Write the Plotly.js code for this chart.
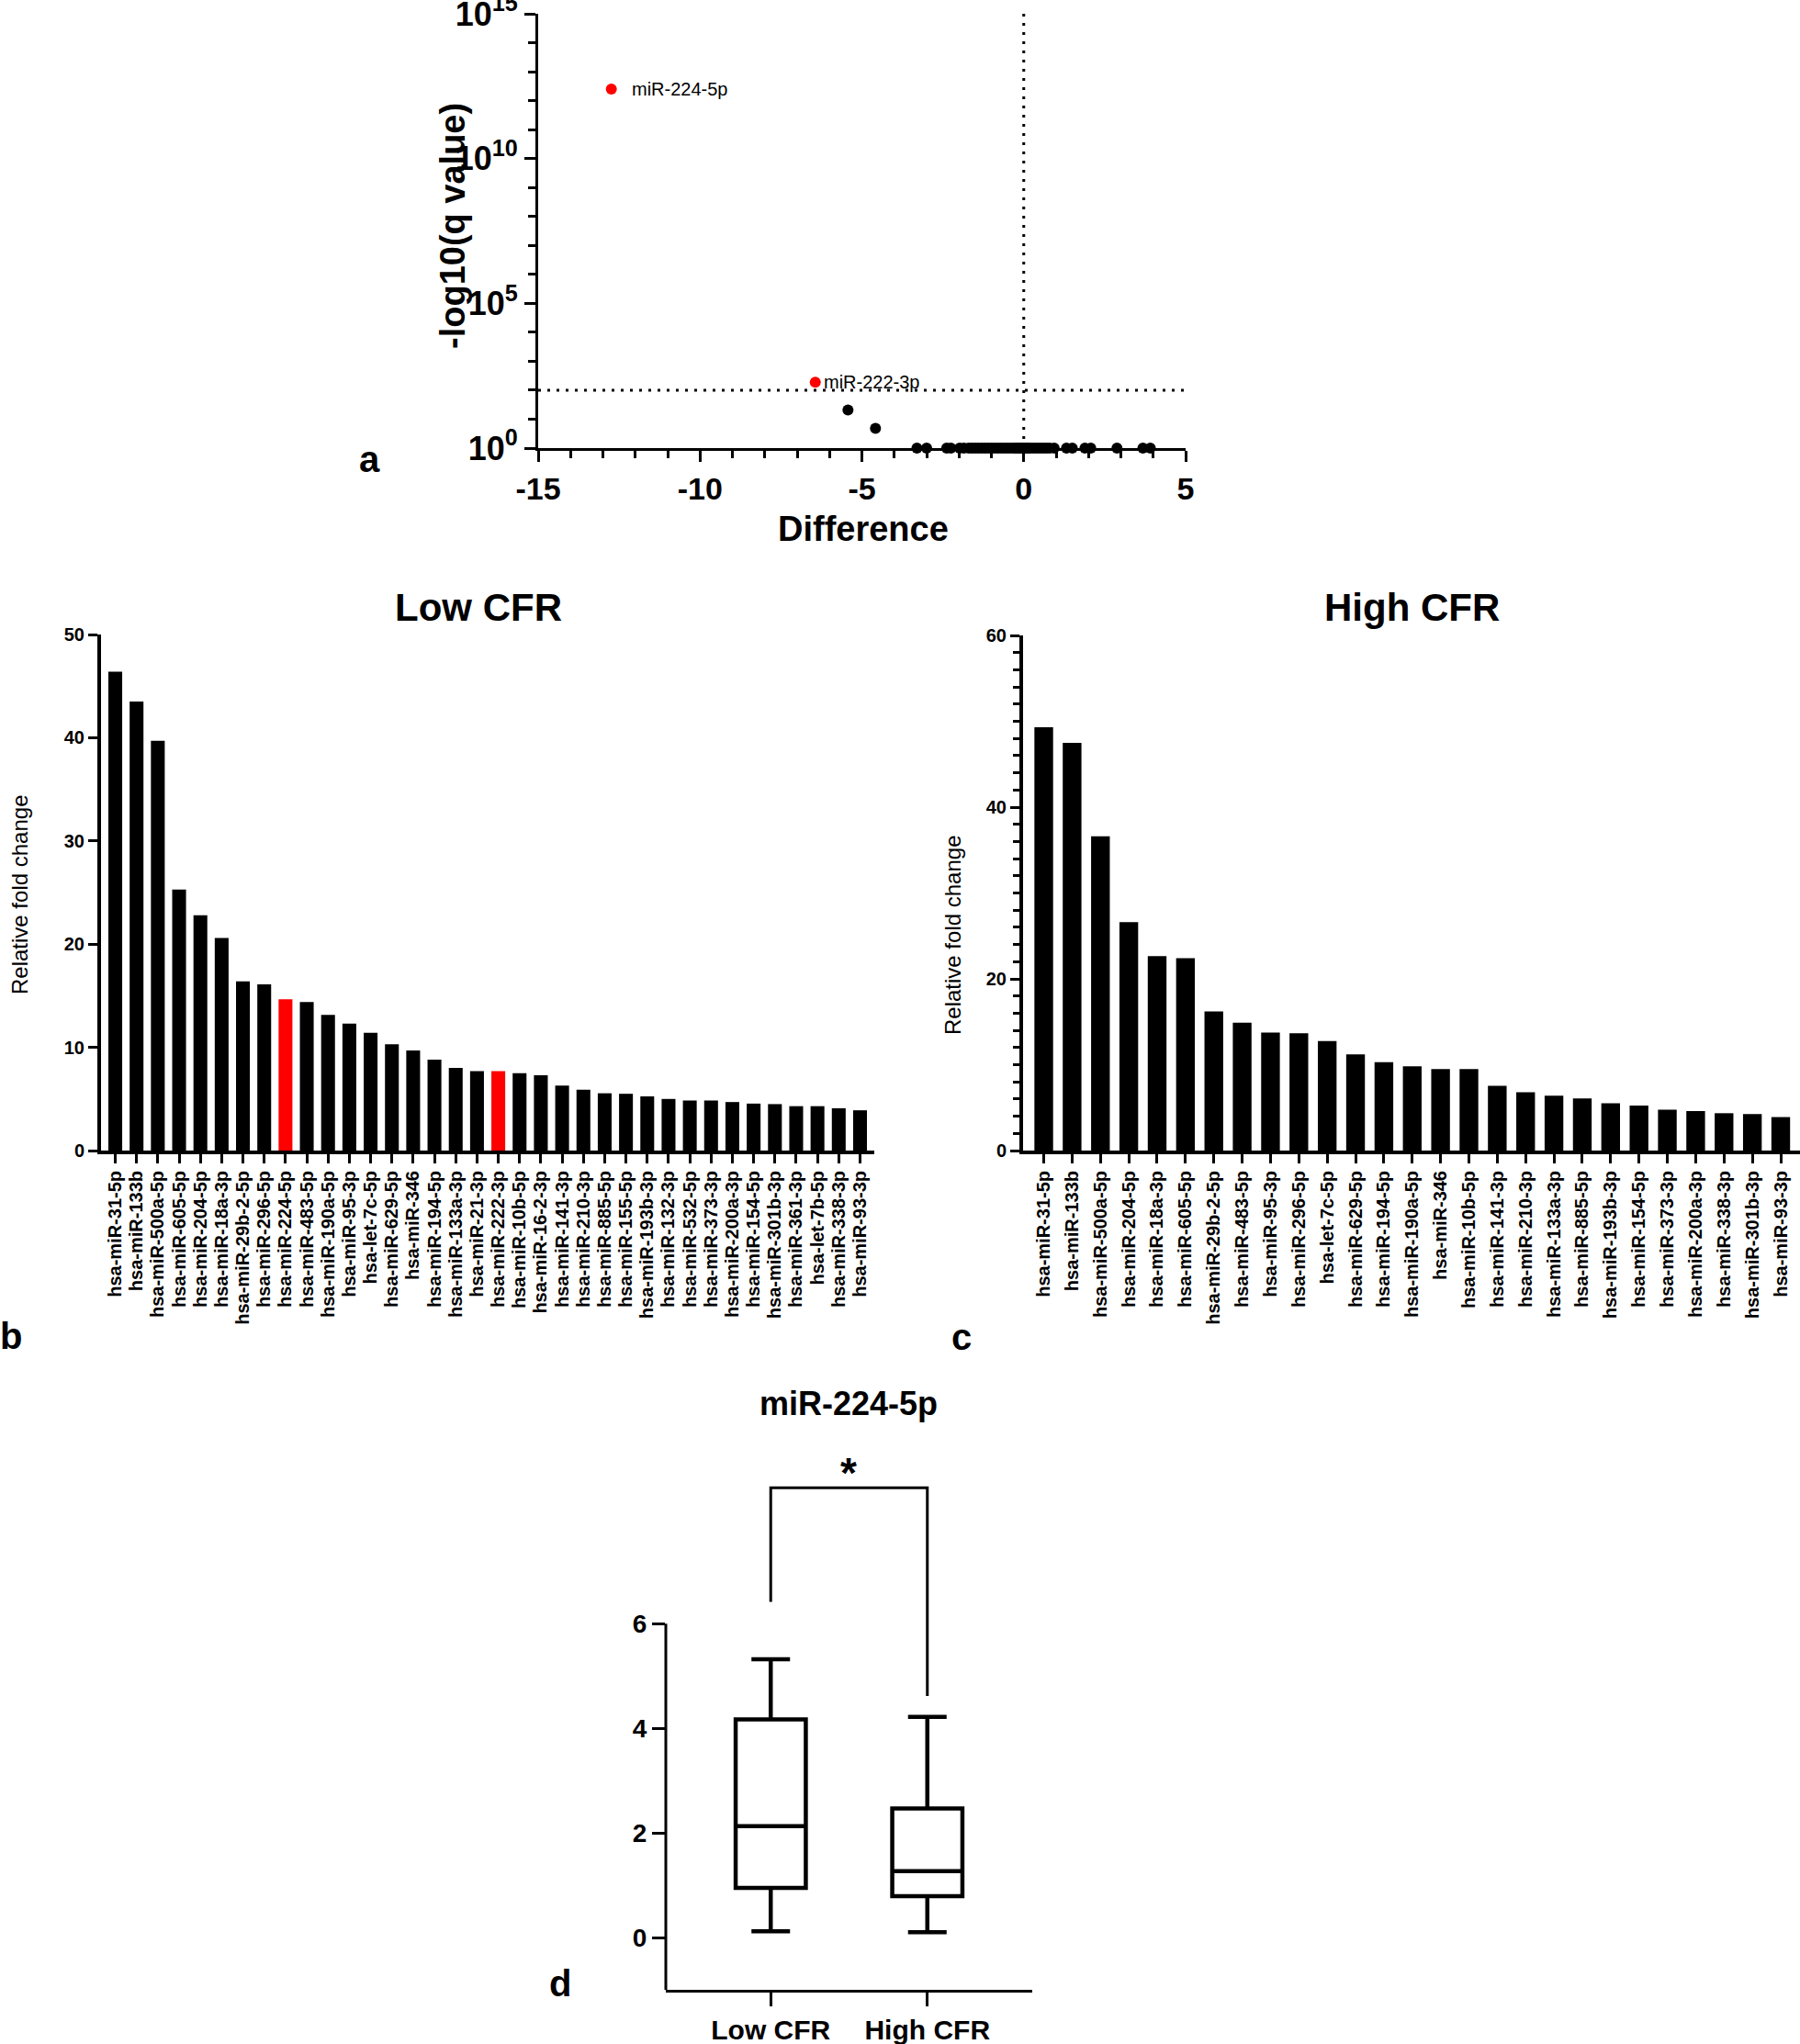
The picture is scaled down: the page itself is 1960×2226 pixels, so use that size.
<!DOCTYPE html>
<html>
<head>
<meta charset="utf-8">
<script src="https://cdn.plot.ly/plotly-3.0.1.min.js"></script>
<style>
  html, body { margin: 0; padding: 0; background: #ffffff; }
  #chart { width: 1960px; height: 2226px; }
</style>
</head>
<body>
<div id="chart"></div>
<script>
// ---------------- DATA ----------------
// Panel a: volcano plot (Difference vs -log10(q value))
const sigLabels = ['miR-224-5p', 'miR-222-3p'];
const sigDiff = [-12.74, -6.44];
const sigQ = [2.5e12, 187];
const otherDiff = [-5.43, -4.58,
  -3.3, -3.0, -2.38, -2.25, -1.98, -1.85, -1.7, -1.6, -1.5, -1.4, -1.3, -1.2, -1.1, -1.0,
  -0.9, -0.8, -0.7, -0.6, -0.5, -0.4, -0.3, -0.25, -0.2, -0.15, -0.1, -0.05, 0.0, 0.05,
  0.1, 0.15, 0.2, 0.3, 0.4, 0.5, 0.6, 0.7, 0.8, 0.94, 1.32, 1.5, 1.89, 2.07, 2.88, 3.68, 3.91];
const otherQ = [20.8, 4.8,
  1, 1, 1, 1, 1, 1, 1, 1, 1, 1, 1, 1, 1, 1,
  1, 1, 1, 1, 1, 1, 1, 1, 1, 1, 1, 1, 1, 1,
  1, 1, 1, 1, 1, 1, 1, 1, 1, 1, 1, 1, 1, 1, 1, 1, 1];
const qThreshold = 100;
const diffThreshold = 0;
const volcanoTickVals = [1, 1e5, 1e10, 1e15];
const volcanoTickText = ['10<sup>0</sup>', '10<sup>5</sup>', '10<sup>10</sup>', '10<sup>15</sup>'];
const diffTickVals = [-15, -10, -5, 0, 5];
const diffTickText = ['-15', '-10', '-5', '0', '5'];

// Panel b: Low CFR
const lowCategories = ['hsa-miR-31-5p', 'hsa-miR-133b', 'hsa-miR-500a-5p', 'hsa-miR-605-5p', 'hsa-miR-204-5p',
  'hsa-miR-18a-3p', 'hsa-miR-29b-2-5p', 'hsa-miR-296-5p', 'hsa-miR-224-5p', 'hsa-miR-483-5p',
  'hsa-miR-190a-5p', 'hsa-miR-95-3p', 'hsa-let-7c-5p', 'hsa-miR-629-5p', 'hsa-miR-346',
  'hsa-miR-194-5p', 'hsa-miR-133a-3p', 'hsa-miR-21-3p', 'hsa-miR-222-3p', 'hsa-miR-10b-5p',
  'hsa-miR-16-2-3p', 'hsa-miR-141-3p', 'hsa-miR-210-3p', 'hsa-miR-885-5p', 'hsa-miR-155-5p',
  'hsa-miR-193b-3p', 'hsa-miR-132-3p', 'hsa-miR-532-5p', 'hsa-miR-373-3p', 'hsa-miR-200a-3p',
  'hsa-miR-154-5p', 'hsa-miR-301b-3p', 'hsa-miR-361-3p', 'hsa-let-7b-5p', 'hsa-miR-338-3p',
  'hsa-miR-93-3p'];
const lowValues = [46.4, 43.5, 39.7, 25.3, 22.8, 20.6, 16.4, 16.1, 14.65, 14.4,
  13.15, 12.3, 11.4, 10.3, 9.7, 8.8, 8.0, 7.7, 7.7, 7.5,
  7.3, 6.3, 5.9, 5.55, 5.5, 5.25, 5.0, 4.85, 4.85, 4.7,
  4.55, 4.5, 4.3, 4.3, 4.1, 3.9];

// Panel c: High CFR
const highCategories = ['hsa-miR-31-5p', 'hsa-miR-133b', 'hsa-miR-500a-5p', 'hsa-miR-204-5p', 'hsa-miR-18a-3p',
  'hsa-miR-605-5p', 'hsa-miR-29b-2-5p', 'hsa-miR-483-5p', 'hsa-miR-95-3p', 'hsa-miR-296-5p',
  'hsa-let-7c-5p', 'hsa-miR-629-5p', 'hsa-miR-194-5p', 'hsa-miR-190a-5p', 'hsa-miR-346',
  'hsa-miR-10b-5p', 'hsa-miR-141-3p', 'hsa-miR-210-3p', 'hsa-miR-133a-3p', 'hsa-miR-885-5p',
  'hsa-miR-193b-3p', 'hsa-miR-154-5p', 'hsa-miR-373-3p', 'hsa-miR-200a-3p', 'hsa-miR-338-3p',
  'hsa-miR-301b-3p', 'hsa-miR-93-3p'];
const highValues = [49.3, 47.5, 36.6, 26.6, 22.65, 22.4, 16.2, 14.9, 13.75, 13.65,
  12.75, 11.2, 10.3, 9.8, 9.5, 9.5, 7.55, 6.8, 6.4, 6.07,
  5.5, 5.25, 4.75, 4.6, 4.35, 4.25, 3.9];

const highlightedLow = ['hsa-miR-224-5p', 'hsa-miR-222-3p'];

// Panel d: miR-224-5p box plot
const boxGroups = ['Low CFR', 'High CFR'];
const boxLowerFence = [0.12, 0.1];
const boxQ1 = [0.95, 0.79];
const boxMedian = [2.13, 1.27];
const boxQ3 = [4.17, 2.47];
const boxUpperFence = [5.32, 4.22];
const bracketX = ['Low CFR', 'Low CFR', 'High CFR', 'High CFR'];
const bracketY = [6.42, 8.6, 8.6, 4.62];
const boxTickVals = [0, 2, 4, 6];

// ---------------- STYLE / LAYOUT ----------------
const W = 1960, H = 2226;
const FONT = 'Liberation Sans, Arial, sans-serif';
const px = v => v / W;
const py = v => 1 - v / H;
const bold = (size) => ({family: FONT, size: size, color: '#000', weight: 'bold'});

const lowColors = lowCategories.map(c => highlightedLow.includes(c) ? '#ff0000' : '#000000');

const traces = [
  {
    type: 'scatter', mode: 'markers', x: otherDiff, y: otherQ,
    xaxis: 'x', yaxis: 'y', cliponaxis: false,
    marker: {color: '#000', size: 12}, hoverinfo: 'skip'
  },
  {
    type: 'scatter', mode: 'markers', x: sigDiff, y: sigQ,
    xaxis: 'x', yaxis: 'y', cliponaxis: false,
    marker: {color: '#ff0000', size: 12}, hoverinfo: 'skip'
  },
  {
    type: 'bar', x: lowCategories, y: lowValues, xaxis: 'x2', yaxis: 'y2',
    width: 0.65, marker: {color: lowColors, line: {width: 0}}
  },
  {
    type: 'bar', x: highCategories, y: highValues, xaxis: 'x3', yaxis: 'y3',
    width: 0.66, marker: {color: '#000', line: {width: 0}}
  },
  {
    type: 'box', x: boxGroups, xaxis: 'x4', yaxis: 'y4',
    lowerfence: boxLowerFence, q1: boxQ1, median: boxMedian, q3: boxQ3, upperfence: boxUpperFence,
    fillcolor: '#ffffff', line: {color: '#000', width: 4.5}, whiskerwidth: 0.55,
    boxpoints: false, hoverinfo: 'skip'
  },
  {
    type: 'scatter', mode: 'lines', x: bracketX, y: bracketY, xaxis: 'x4', yaxis: 'y4',
    cliponaxis: false, line: {color: '#000', width: 3}, hoverinfo: 'skip'
  }
];

const commonAxis = {
  showgrid: false, zeroline: false, showline: true, linecolor: '#000',
  ticks: 'outside', tickcolor: '#000', fixedrange: true, ticklabeloverflow: 'allow'
};

const layout = {
  width: W, height: H,
  margin: {l: 0, r: 0, t: 0, b: 0, pad: 0},
  paper_bgcolor: '#fff', plot_bgcolor: '#fff',
  showlegend: false,
  font: {family: FONT, color: '#000'},
  boxgap: 0.36,
  // Panel a
  xaxis: Object.assign({}, commonAxis, {
    domain: [px(586), px(1291)], anchor: 'y', range: [-15, 5],
    tickmode: 'array', tickvals: diffTickVals, ticktext: diffTickText,
    ticklen: 12, tickwidth: 3, linewidth: 3,
    tickfont: bold(34),
    minor: {dtick: 1, ticks: 'outside', ticklen: 8, tickwidth: 3, tickcolor: '#000'}
  }),
  yaxis: Object.assign({}, commonAxis, {
    domain: [py(488), py(15)], anchor: 'x', type: 'log', range: [0, 15],
    tickmode: 'array', tickvals: volcanoTickVals, ticktext: volcanoTickText,
    ticklen: 12, tickwidth: 3, linewidth: 3, tickfont: bold(36),
    minor: {dtick: 1, ticks: 'outside', ticklen: 8, tickwidth: 3, tickcolor: '#000'}
  }),
  // Panel b
  xaxis2: Object.assign({}, commonAxis, {
    domain: [px(110), px(952)], anchor: 'y2', type: 'category', range: [-0.67, 35.67],
    tickmode: 'array', tickvals: lowCategories,
    ticklen: 10, tickwidth: 3, linewidth: 4, tickangle: -90, tickfont: bold(20)
  }),
  yaxis2: Object.assign({}, commonAxis, {
    domain: [py(1253), py(691)], anchor: 'x2', range: [0, 50], dtick: 10,
    ticklen: 10, tickwidth: 3, linewidth: 4, tickfont: bold(20)
  }),
  // Panel c
  xaxis3: Object.assign({}, commonAxis, {
    domain: [px(1114), 1], anchor: 'y3', type: 'category', range: [-0.73, 26.68],
    tickmode: 'array', tickvals: highCategories,
    ticklen: 10, tickwidth: 3, linewidth: 4, tickangle: -90, tickfont: bold(20)
  }),
  yaxis3: Object.assign({}, commonAxis, {
    domain: [py(1253), py(692)], anchor: 'x3', range: [0, 60], tickmode: 'array', tickvals: [0, 20, 40, 60],
    ticklen: 10, tickwidth: 3, linewidth: 4, tickfont: bold(20),
    minor: {dtick: 2, ticks: 'outside', ticklen: 7, tickwidth: 3, tickcolor: '#000'}
  }),
  // Panel d
  xaxis4: Object.assign({}, commonAxis, {
    domain: [px(725), px(1124)], anchor: 'y4', type: 'category', range: [-0.67, 1.67],
    ticklen: 15, tickwidth: 3, linewidth: 3, tickfont: bold(30)
  }),
  yaxis4: Object.assign({}, commonAxis, {
    domain: [py(2167), py(1569)], anchor: 'x4', range: [-1, 9.5], showline: false,
    tickmode: 'array', tickvals: boxTickVals, ticklen: 14, tickwidth: 3, tickfont: bold(28)
  }),
  shapes: [
    {type: 'line', xref: 'x', yref: 'y', x0: diffThreshold, x1: diffThreshold, y0: 1, y1: 1e15,
      line: {color: '#000', width: 3, dash: '3px,7px'}},
    {type: 'line', xref: 'x', yref: 'y', x0: -15, x1: 5,
      y0: qThreshold, y1: qThreshold,
      line: {color: '#000', width: 3, dash: '3px,7px'}},
    {type: 'line', xref: 'x4 domain', yref: 'y4', x0: 0, x1: 0, y0: -1, y1: 6,
      line: {color: '#000', width: 3}}
  ],
  annotations: [
    // point labels in panel a
    {xref: 'x', yref: 'y', x: sigDiff[0], y: Math.log10(sigQ[0]), text: sigLabels[0],
      showarrow: false, xanchor: 'left', yanchor: 'middle', xshift: 20,
      font: {family: FONT, size: 20, color: '#000'}},
    {xref: 'x', yref: 'y', x: sigDiff[1], y: Math.log10(sigQ[1]), text: sigLabels[1],
      showarrow: false, xanchor: 'left', yanchor: 'middle', xshift: 7,
      font: {family: FONT, size: 20, color: '#000'}},
    // axis titles panel a
    {xref: 'paper', yref: 'paper', x: px(493), y: py(246), text: '-log10(q value)', textangle: -90,
      showarrow: false, xanchor: 'center', yanchor: 'middle', font: bold(38)},
    {xref: 'paper', yref: 'paper', x: px(940), y: py(576), text: 'Difference',
      showarrow: false, xanchor: 'center', yanchor: 'middle', font: bold(38)},
    // panel titles
    {xref: 'paper', yref: 'paper', x: px(521), y: py(661), text: 'Low CFR',
      showarrow: false, xanchor: 'center', yanchor: 'middle', font: bold(42)},
    {xref: 'paper', yref: 'paper', x: px(1537), y: py(661), text: 'High CFR',
      showarrow: false, xanchor: 'center', yanchor: 'middle', font: bold(42)},
    {xref: 'paper', yref: 'paper', x: px(22), y: py(975), text: 'Relative fold change', textangle: -90,
      showarrow: false, xanchor: 'center', yanchor: 'middle', font: {family: FONT, size: 24, color: '#000'}},
    {xref: 'paper', yref: 'paper', x: px(1037), y: py(1019), text: 'Relative fold change', textangle: -90,
      showarrow: false, xanchor: 'center', yanchor: 'middle', font: {family: FONT, size: 24, color: '#000'}},
    {xref: 'paper', yref: 'paper', x: px(924), y: py(1528), text: 'miR-224-5p',
      showarrow: false, xanchor: 'center', yanchor: 'middle', font: bold(36)},
    {xref: 'paper', yref: 'paper', x: px(924), y: py(1604), text: '*',
      showarrow: false, xanchor: 'center', yanchor: 'middle', font: bold(46)},
    // panel letters
    {xref: 'paper', yref: 'paper', x: px(402), y: py(500), text: 'a',
      showarrow: false, xanchor: 'center', yanchor: 'middle', font: bold(40)},
    {xref: 'paper', yref: 'paper', x: px(12), y: py(1455), text: 'b',
      showarrow: false, xanchor: 'center', yanchor: 'middle', font: bold(40)},
    {xref: 'paper', yref: 'paper', x: px(1047), y: py(1456), text: 'c',
      showarrow: false, xanchor: 'center', yanchor: 'middle', font: bold(40)},
    {xref: 'paper', yref: 'paper', x: px(610), y: py(2160), text: 'd',
      showarrow: false, xanchor: 'center', yanchor: 'middle', font: bold(40)}
  ]
};

Plotly.newPlot('chart', traces, layout, {staticPlot: true, displayModeBar: false});
</script>
</body>
</html>
